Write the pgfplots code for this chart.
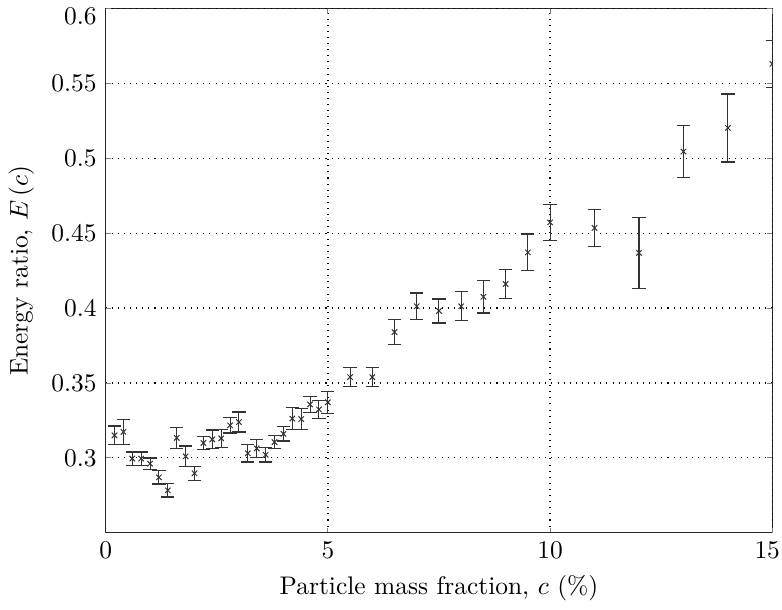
\documentclass[border=0pt]{standalone}
\usepackage{pgfplots}
\pgfplotsset{compat=1.18}
\usepackage{pgfplotstable}
\pgfplotstableread{
x y e
0.2 0.3150 0.0063
0.4 0.3173 0.0083
0.6 0.2995 0.0044
0.8 0.2995 0.0044
1.0 0.2961 0.0038
1.2 0.2870 0.0045
1.4 0.2783 0.0045
1.6 0.3133 0.0070
1.8 0.3010 0.0069
2.0 0.2897 0.0047
2.2 0.3099 0.0042
2.4 0.3123 0.0062
2.6 0.3130 0.0060
2.8 0.3217 0.0052
3.0 0.3239 0.0067
3.2 0.3030 0.0058
3.4 0.3063 0.0061
3.6 0.3020 0.0048
3.8 0.3105 0.0045
4.0 0.3160 0.0048
4.2 0.3262 0.0072
4.4 0.3259 0.0069
4.6 0.3357 0.0055
4.8 0.3323 0.0061
5.0 0.3371 0.0074
5.5 0.3539 0.0064
6.0 0.3539 0.0064
6.5 0.3839 0.0084
7.0 0.4012 0.0089
7.5 0.3981 0.0080
8.0 0.4012 0.0097
8.5 0.4075 0.0108
9.0 0.4161 0.0096
9.5 0.4372 0.0123
10 0.4572 0.0120
11 0.4535 0.0122
12 0.4368 0.0239
13 0.5045 0.0172
14 0.5203 0.0227
15 0.5630 0.0155
}\datatable
\begin{document}
\begin{tikzpicture}
\begin{axis}[
  scale only axis,
  width=262pt, height=206pt,
  xmin=0, xmax=15, ymin=0.25, ymax=0.6,
  xtick={0,5,10},
  ytick={0.3,0.35,0.4,0.45,0.5,0.55},
  extra x ticks={15},
  extra x tick style={xticklabel style={xshift=-2pt, inner xsep=0.8pt}},
  extra y ticks={0.6},
  extra y tick style={yticklabel style={yshift=-3.2pt}},
  yticklabel style={/pgf/number format/fixed, /pgf/number format/precision=2},
  grid=major,
  major grid style={black, dotted, line width=0.5pt},
  axis line style={black!85, line width=0.5pt},
  tick style={black!50, line width=0.3pt},
  major tick length=2pt,
  tick align=inside,
  clip marker paths=true,
  xlabel={Particle mass fraction, $c$ (\%)},
  ylabel={Energy ratio, $E\left(c\right)$},
]
\addplot[black!80, line width=0.5pt, only marks, mark=x, mark size=1.5pt,
  mark options={line width=0.4pt},
  error bars/.cd, y dir=both, y explicit,
  error mark options={rotate=90, mark size=2.6pt, line width=0.5pt}]
  table[x=x, y=y, y error=e] {\datatable};
\end{axis}
\end{tikzpicture}
\end{document}
